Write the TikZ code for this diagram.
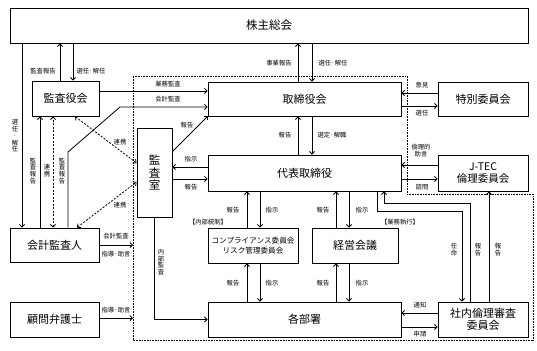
\documentclass[tikz,border=0pt]{standalone}
\usepackage{fontspec}
\setmainfont{Noto Sans CJK JP}
\usetikzlibrary{arrows.meta,calc}
\begin{document}
\begin{tikzpicture}[x=1pt,y=-1pt,
  box/.style={draw,line width=0.9pt,inner sep=0pt,font=\fontsize{11}{13}\selectfont,align=center},
  lbl/.style={font=\fontsize{6.3}{7}\selectfont,inner sep=0pt,align=center},
  vlbl/.style={font=\fontsize{6.3}{6.8}\selectfont,inner sep=0pt,align=center},
  tip/.tip={Straight Barb[length=2.5pt,width=5pt]},
  arr/.style={line width=0.8pt,-tip},
  darr/.style={line width=0.8pt,dash pattern=on 2pt off 1.5pt,tip-tip},
  dotbox/.style={line width=0.7pt,dash pattern=on 0.7pt off 0.9pt}]
\fill[white] (0,0) rectangle (537,350);
\useasboundingbox (0,0) rectangle (537,350);

% boxes
\node[box,minimum width=518pt,minimum height=35pt,font=\fontsize{11.5}{13}\selectfont] (kabu) at (269,25.5) {株主総会};
\node[box,minimum width=67pt,minimum height=35pt] (kansayaku) at (65.5,98.5) {監査役会};
\node[box,minimum width=193pt,minimum height=34pt] (torishimari) at (304.5,99) {取締役会};
\node[box,minimum width=90pt,minimum height=34pt] (tokubetsu) at (483,99) {特別委員会};
\node[box,minimum width=35pt,minimum height=89pt,font=\fontsize{11.5}{12.5}\selectfont] (kansashitsu) at (154.5,172.5) {監\\査\\室};
\node[box,minimum width=193pt,minimum height=36pt] (daihyo) at (304.5,173) {代表取締役};
\node[box,minimum width=90pt,minimum height=36pt,font=\fontsize{10.5}{12.5}\selectfont] (jtec) at (483,173) {J-TEC\\倫理委員会};
\node[box,minimum width=89pt,minimum height=34pt] (kaikei) at (54.5,245) {会計監査人};
\node[box,minimum width=89pt,minimum height=35pt] (komon) at (54.5,319.5) {顧問弁護士};
\node[box,minimum width=90pt,minimum height=35pt,font=\fontsize{7.6}{9.5}\selectfont] (compl) at (253,245.5) {コンプライアンス委員会\\リスク管理委員会};
\node[box,minimum width=86pt,minimum height=35pt] (keiei) at (355,245.5) {経営会議};
\node[box,minimum width=193pt,minimum height=35pt] (kakubusho) at (304.5,319.5) {各部署};
\node[box,minimum width=90pt,minimum height=35pt,font=\fontsize{11}{12.5}\selectfont] (shanai) at (483,319.5) {社内倫理審査\\委員会};

% dotted region
\draw[dotbox] (133,76) -- (407,76) -- (407,194) -- (533,194) -- (533,340) -- (133,340) -- cycle;

% helper coordinates
\foreach \v in {22,40,53,60,68,73,120,247,260,298,312,336,349,377,384,462,470,489}{\coordinate (x\v) at (\v,0);}
\foreach \v in {91,93,106,107,152,165,167,179,203,211,245,313,318,327}{\coordinate (y\v) at (0,\v);}
\coordinate (dl) at (133,0);

% shareholders
\draw[arr] (kansayaku.north -| x60) -- (kabu.south -| x60);
\draw[arr] (kabu.south -| x73) -- (kansayaku.north -| x73);
\draw[arr] (torishimari.north -| x298) -- (kabu.south -| x298);
\draw[arr] (kabu.south -| x312) -- (torishimari.north -| x312);
\draw[arr] (kabu.south -| x22) -- (kaikei.north -| x22);

% left column
\draw[arr] (kaikei.north -| x40) -- (kansayaku.south -| x40);
\draw[darr] (kaikei.north -| x53) -- (kansayaku.south -| x53);
\draw[arr] (kaikei.north -| x68) -- (x68 |- y152) -- (x120 |- y107) -- (torishimari.west |- y107);
\draw[arr] (kansayaku.east |- y91) -- (torishimari.west |- y91);
\draw[darr] ([xshift=9.5pt]kansayaku.south) -- ([yshift=9.5pt]kansashitsu.west);
\draw[darr] ([xshift=22.5pt]kaikei.north) -- ([yshift=-9.5pt]kansashitsu.west);
\draw[arr] (kaikei.east |- y245) -- (dl |- y245);
\draw[arr] (komon.east |- y318) -- (dl |- y318);

% special committee
\draw[arr] (tokubetsu.west |- y93) -- (torishimari.east |- y93);
\draw[arr] (torishimari.east |- y106) -- (tokubetsu.west |- y106);

% audit office
\draw[arr] ([yshift=-24pt]kansashitsu.north east) -- (torishimari.south west);
\draw[arr] (daihyo.west |- y167) -- (kansashitsu.east |- y167);
\draw[arr] (kansashitsu.east |- y179) -- (daihyo.west |- y179);
\draw[arr] (kansashitsu.south) |- (kakubusho.west);

% board - representative
\draw[arr] (daihyo.north -| x298) -- (torishimari.south -| x298);
\draw[arr] (torishimari.south -| x312) -- (daihyo.north -| x312);
\draw[arr] (jtec.west |- y165) -- (daihyo.east |- y165);
\draw[arr] (daihyo.east |- y179) -- (jtec.west |- y179);

% representative - committees
\draw[arr] (compl.north -| x247) -- (daihyo.south -| x247);
\draw[arr] (daihyo.south -| x260) -- (compl.north -| x260);
\draw[arr] (keiei.north -| x336) -- (daihyo.south -| x336);
\draw[arr] (daihyo.south -| x349) -- (keiei.north -| x349);

% committees - departments
\draw[arr] (kakubusho.north -| x247) -- (compl.south -| x247);
\draw[arr] (compl.south -| x260) -- (kakubusho.north -| x260);
\draw[arr] (kakubusho.north -| x336) -- (keiei.south -| x336);
\draw[arr] (keiei.south -| x349) -- (kakubusho.north -| x349);

% ethics review committee
\draw[arr] (shanai.west |- y313) -- (kakubusho.east |- y313);
\draw[arr] (kakubusho.east |- y327) -- (shanai.west |- y327);
\draw[arr] (daihyo.south -| x377) -- (x377 |- y211) -| (shanai.north -| x462);
\draw[arr] (shanai.north -| x470) |- (x384 |- y203) -- (daihyo.south -| x384);
\draw[arr] (shanai.north -| x489) -- (jtec.south -| x489);

% labels
\node[lbl] (l1) at (43,71) {監査報告};
\node[lbl] (l2) at (91,71) {選任·解任};
\node[lbl] (l3) at (279,63) {事業報告};
\node[lbl] (l4) at (333,63) {選任·解任};
\node[lbl] (l5) at (168,84) {業務監査};
\node[lbl] (l6) at (168,99) {会計監査};
\node[lbl] (l7) at (422,85) {意見};
\node[lbl] (l8) at (422,113) {選任};
\node[vlbl] (l9) at (15,136) {選\\任\\·\\解\\任};
\node[vlbl] (l10) at (33,171) {監\\査\\報\\告};
\node[vlbl] (l11) at (47,171) {連\\携};
\node[vlbl] (l12) at (62,171) {監\\査\\報\\告};
\node[lbl] (l13) at (120,142) {連携};
\node[lbl] (l14) at (120,205) {連携};
\node[lbl] (l15) at (187,125) {報告};
\node[lbl] (l16) at (191,159) {指示};
\node[lbl] (l17) at (191,187) {報告};
\node[lbl] (l18) at (116,236) {会計監査};
\node[lbl] (l19) at (116,254) {指導·助言};
\node[lbl] (l20) at (116,310) {指導·助言};
\node[lbl] (l21) at (285,135) {報告};
\node[lbl] (l22) at (332,135) {選定·解職};
\node[lbl] (l23) at (421,151) {倫理的\\助言};
\node[lbl] (l24) at (422,187) {諮問};
\node[lbl] (l25) at (233,210) {報告};
\node[lbl] (l26) at (272,210) {指示};
\node[lbl] (l27) at (323,210) {報告};
\node[lbl] (l28) at (362,210) {指示};
\node[lbl] (l29) at (208,222) {【内部統制】};
\node[lbl] (l30) at (400,222) {【業務執行】};
\node[lbl] (l31) at (233,283) {報告};
\node[lbl] (l32) at (272,283) {指示};
\node[lbl] (l33) at (323,283) {報告};
\node[lbl] (l34) at (362,283) {指示};
\node[vlbl] (l35) at (161,262) {内\\部\\監\\査};
\node[lbl] (l36) at (420,305) {通知};
\node[lbl] (l37) at (420,334) {申請};
\node[vlbl] (l38) at (454,250) {任\\命};
\node[vlbl] (l39) at (478,250) {報\\告};
\node[vlbl] (l40) at (498,250) {報\\告};
\end{tikzpicture}
\end{document}
